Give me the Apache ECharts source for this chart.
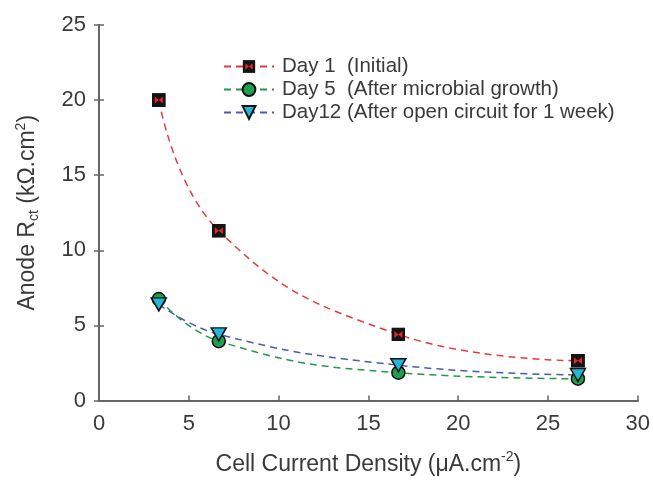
<!DOCTYPE html>
<html lang="en">
<head>
  <meta charset="UTF-8" />
  <title>Anode Rct vs current density</title>
  <script src="https://cdn.jsdelivr.net/npm/echarts@6.0.0/dist/echarts.min.js"></script>
</head>
<body style="margin: 0; background: #fff">
  <div id="container" style="width: 653px; height: 481px"></div>
  <script type="text/javascript">
    // data
    var density = [3.33, 6.67, 16.67, 26.67];
    var day1 = [20.0, 11.3, 4.4, 2.65];
    var day5 = [6.75, 3.95, 1.85, 1.45];
    var day12 = [6.4, 4.4, 2.35, 1.7];
    var seriesNames = ["Day 1  (Initial)", "Day 5  (After microbial growth)", "Day12 (After open circuit for 1 week)"];

    function pairs(ys) {
      return density.map(function (x, i) { return [x, ys[i]]; });
    }

    // black square with a red bow-tie inside
    var squareSvg = "<svg xmlns='http://www.w3.org/2000/svg' width='14' height='14'>" +
      "<rect x='0' y='0' width='14' height='14' fill='#141414'/>" +
      "<path d='M3 3.5 L7 7 L3 10.5 Z M11 3.5 L7 7 L11 10.5 Z' fill='#e8262a'/></svg>";
    var squareSymbol = "image://data:image/svg+xml;charset=utf-8," + encodeURIComponent(squareSvg);

    var textColor = "#3a3a3a";
    var axisColor = "#666";
    var font = "Liberation Sans";

    var dom = document.getElementById("container");
    var myChart = echarts.init(dom, null, { renderer: "canvas" });

    var option = {
      animation: false,
      grid: { left: 99, right: 14, top: 25, bottom: 80 },
      legend: {
        orient: "vertical",
        left: 218,
        top: 51,
        itemWidth: 50,
        itemHeight: 16,
        itemGap: 2,
        textStyle: { fontFamily: font, fontSize: 20.5, color: textColor, padding: [0, 0, 0, 3], lineHeight: 20 },
        data: seriesNames
      },
      xAxis: [{
        type: "value",
        min: 0, max: 30, interval: 5,
        name: "Cell Current Density ({mu|μ}A.cm{sup|-2})",
        nameLocation: "middle",
        nameGap: 50,
        nameTextStyle: {
          fontFamily: font, fontSize: 23, color: textColor,
          rich: {
            mu: { fontFamily: font, fontSize: 23, color: textColor },
            sup: { fontFamily: font, fontSize: 14, color: textColor, padding: [0, 0, 14, 0] }
          }
        },
        axisLine: { lineStyle: { color: axisColor, width: 2 } },
        axisTick: { inside: true, length: 5, lineStyle: { color: axisColor, width: 1.5 } },
        axisLabel: { fontFamily: font, fontSize: 22, color: textColor, margin: 12 },
        splitLine: { show: false }
      }, {
        type: "value",
        position: "top",
        min: 0, max: 30, interval: 5,
        axisLine: { lineStyle: { color: axisColor, width: 2 } },
        axisTick: { show: false },
        axisLabel: { show: false },
        splitLine: { show: false }
      }],
      yAxis: [{
        type: "value",
        min: 0, max: 25, interval: 5,
        name: "Anode R{sub|ct} (kΩ.cm{sup|2})",
        nameLocation: "middle",
        nameGap: 57,
        nameTextStyle: {
          fontFamily: font, fontSize: 23, color: textColor,
          rich: {
            sub: { fontFamily: font, fontSize: 14, color: textColor, padding: [12, 0, 0, 0] },
            sup: { fontFamily: font, fontSize: 14, color: textColor, padding: [0, 0, 14, 0] }
          }
        },
        axisLine: { lineStyle: { color: axisColor, width: 2 } },
        axisTick: { inside: true, length: 5, lineStyle: { color: axisColor, width: 1.5 } },
        axisLabel: { fontFamily: font, fontSize: 22, color: textColor, margin: 13 },
        splitLine: { show: false }
      }, {
        type: "value",
        position: "right",
        min: 0, max: 25, interval: 5,
        axisLine: { lineStyle: { color: axisColor, width: 2 } },
        axisTick: { inside: true, length: 5, lineStyle: { color: axisColor, width: 1.5 } },
        axisLabel: { show: false },
        splitLine: { show: false }
      }],
      series: [
        {
          name: seriesNames[0],
          type: "line",
          data: pairs(day1),
          smooth: 0.45,
          symbol: squareSymbol,
          symbolSize: 14,
          lineStyle: { color: "#e8393a", width: 1.5, type: [7, 5] },
          itemStyle: { color: "#e8393a" }
        },
        {
          name: seriesNames[1],
          type: "line",
          data: pairs(day5),
          smooth: 0.45,
          symbol: "circle",
          symbolSize: 13,
          lineStyle: { color: "#1f9a4a", width: 1.5, type: [7, 5] },
          itemStyle: { color: "#1fa050", borderColor: "#111", borderWidth: 1.5 }
        },
        {
          name: seriesNames[2],
          type: "line",
          data: pairs(day12),
          smooth: 0.45,
          symbol: "triangle",
          symbolRotate: 180,
          symbolSize: [15, 13],
          lineStyle: { color: "#4a5cb0", width: 1.5, type: [7, 5] },
          itemStyle: { color: "#22b8d8", borderColor: "#111", borderWidth: 1.5 }
        }
      ]
    };

    myChart.setOption(option);
    window.addEventListener("resize", myChart.resize);
  </script>
</body>
</html>
